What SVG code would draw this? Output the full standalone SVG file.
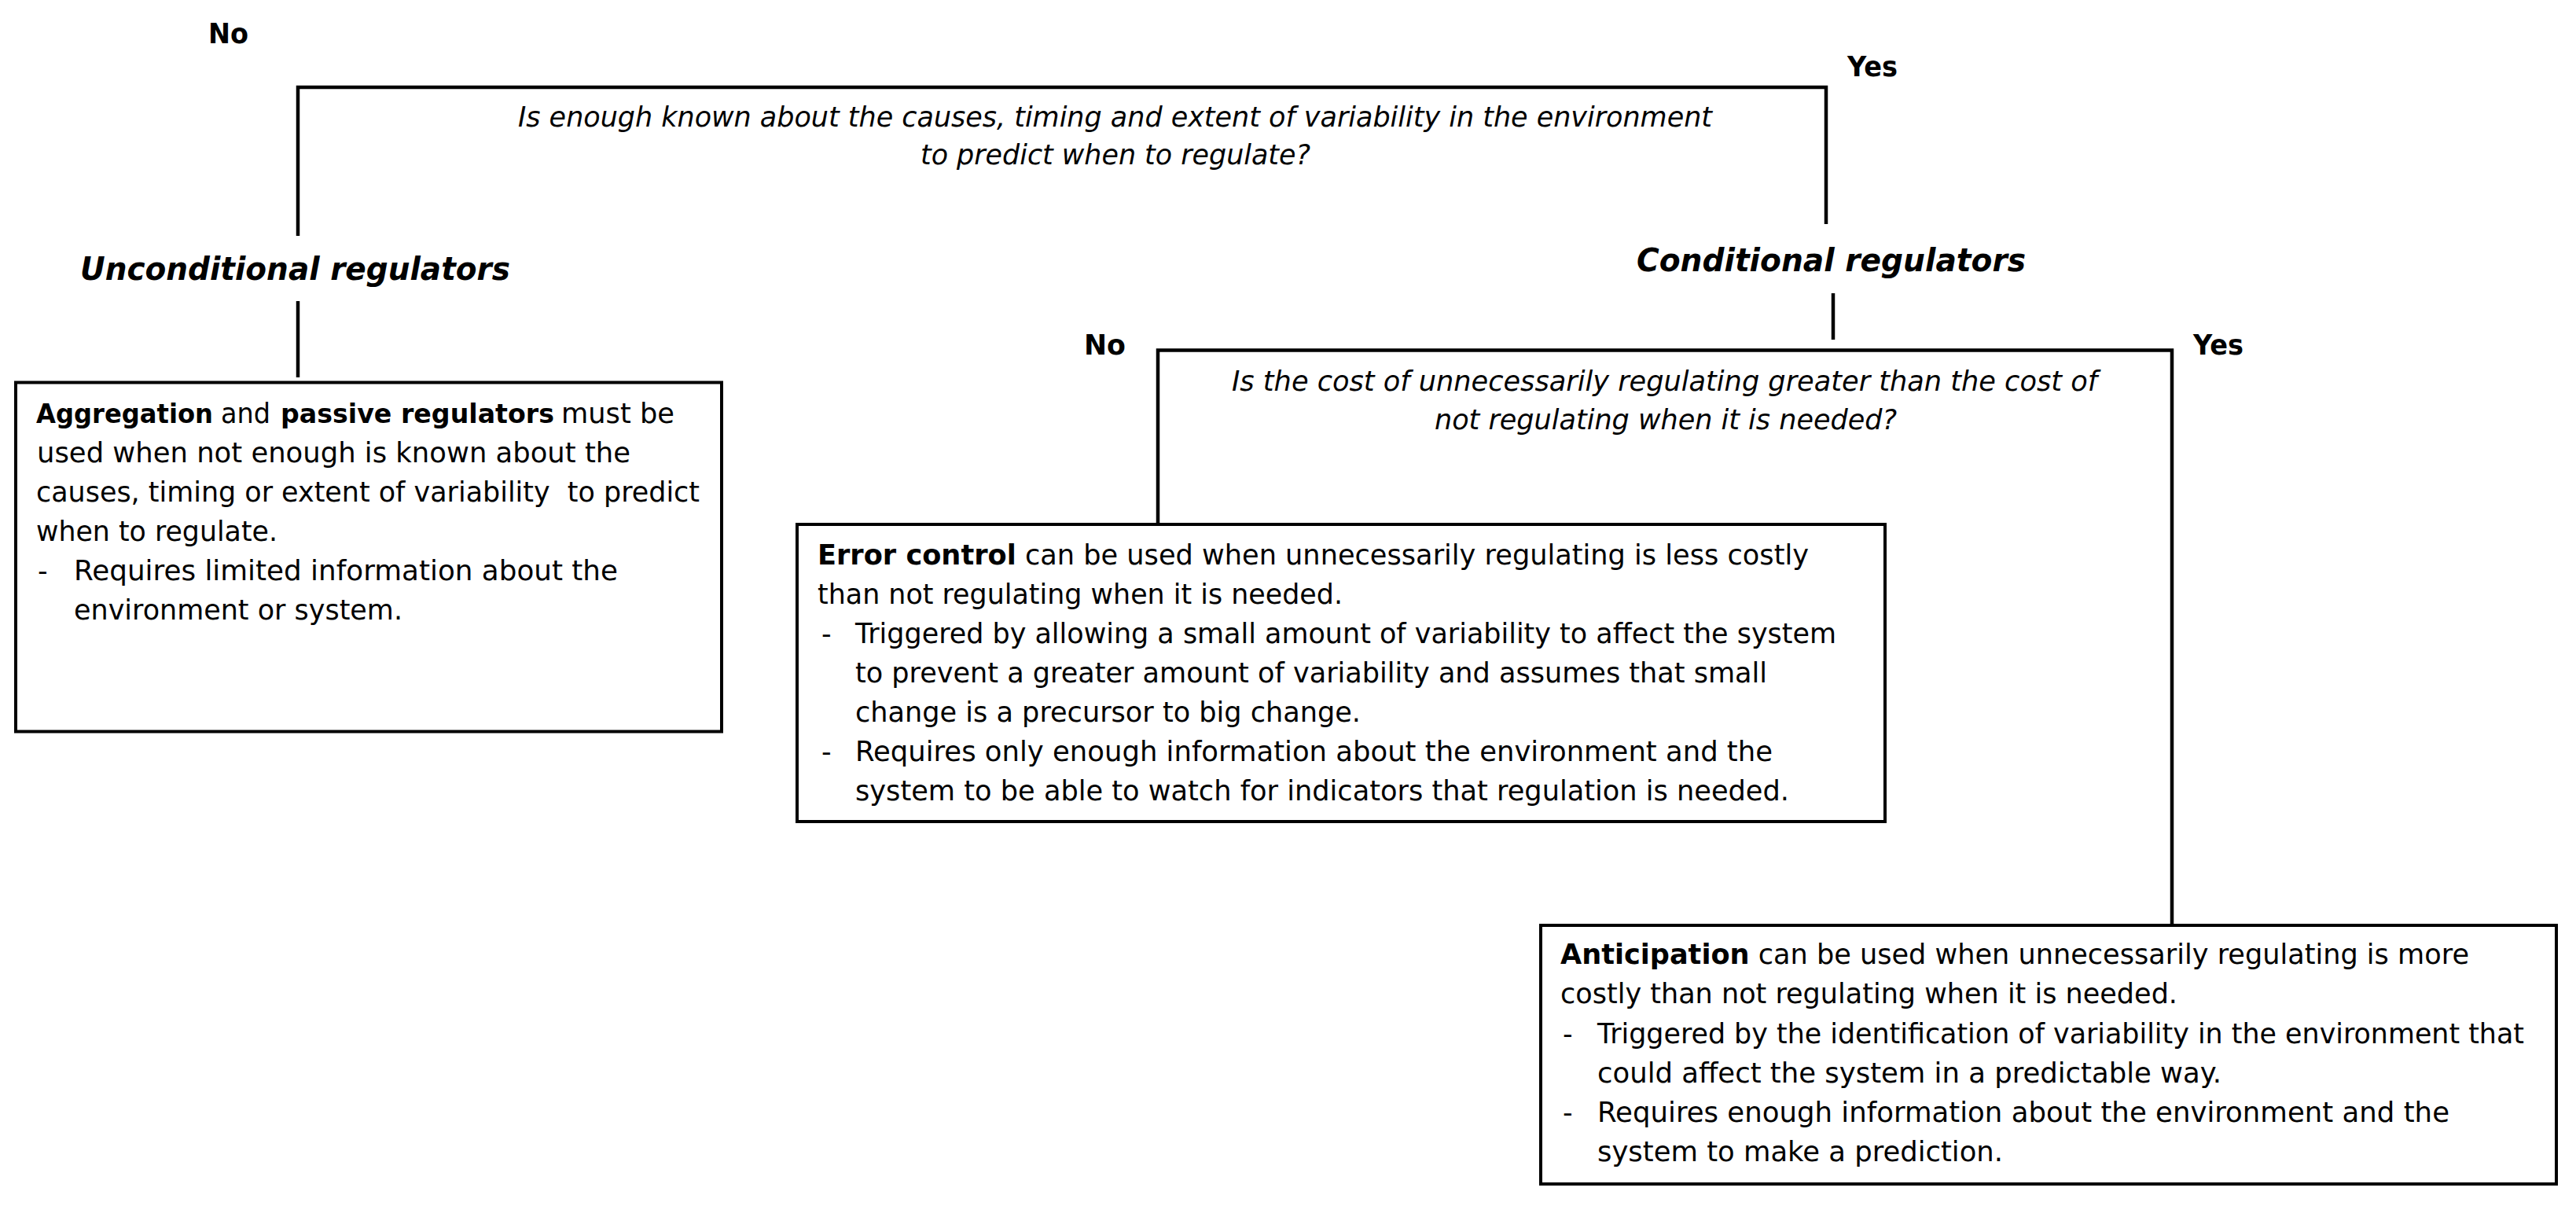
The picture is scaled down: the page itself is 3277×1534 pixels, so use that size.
<svg xmlns="http://www.w3.org/2000/svg" width="3277" height="1534" viewBox="0 0 3277 1534">
<style>
text{font-family:"DejaVu Sans","Liberation Sans",sans-serif;fill:#000}
.body{font-size:35px}
.b{font-weight:bold}
.b33{font-size:33px}
.q{font-size:35px;font-style:italic}
.lbl{font-size:35px;font-weight:bold}
.head{font-size:40px;font-weight:bold;font-style:italic}
.box{fill:#fff;stroke:#000;stroke-width:4}
.conn{fill:none;stroke:#000;stroke-width:4.5;stroke-linejoin:miter}
</style>
<rect width="3277" height="1534" fill="#fff"/>
<g id="connectors">
<path class="conn" d="M379,300 V111 H2323 V285"/>
<path class="conn" d="M379,383 V480"/>
<path class="conn" d="M2332,373 V432"/>
<path class="conn" d="M1473,667 V445.5 H2763 V1177"/>
</g>
<g id="q1">
<text class="q" x="659" y="161" textLength="1519" lengthAdjust="spacingAndGlyphs">Is enough known about the causes, timing and extent of variability in the environment</text>
<text class="q" x="1171" y="209" textLength="496" lengthAdjust="spacingAndGlyphs">to predict when to regulate?</text>
<text class="lbl" x="265" y="55" textLength="51" lengthAdjust="spacingAndGlyphs">No</text>
<text class="lbl" x="2350" y="97" textLength="64" lengthAdjust="spacingAndGlyphs">Yes</text>
</g>
<g id="unconditional">
<text class="head" x="102" y="356" textLength="547" lengthAdjust="spacingAndGlyphs">Unconditional regulators</text>
</g>
<g id="conditional">
<text class="head" x="2082" y="345" textLength="495" lengthAdjust="spacingAndGlyphs">Conditional regulators</text>
</g>
<g id="q2">
<text class="q" x="1567" y="497" textLength="1101" lengthAdjust="spacingAndGlyphs">Is the cost of unnecessarily regulating greater than the cost of</text>
<text class="q" x="1825" y="546" textLength="588" lengthAdjust="spacingAndGlyphs">not regulating when it is needed?</text>
<text class="lbl" x="1379" y="451" textLength="53" lengthAdjust="spacingAndGlyphs">No</text>
<text class="lbl" x="2790" y="451" textLength="64" lengthAdjust="spacingAndGlyphs">Yes</text>
</g>
<g id="box-aggregation">
<rect class="box" x="20" y="486.5" width="898" height="444"/>
<text class="body b b33" x="46" y="538" textLength="225" lengthAdjust="spacingAndGlyphs">Aggregation</text>
<text class="body" x="281" y="538" textLength="63" lengthAdjust="spacingAndGlyphs">and</text>
<text class="body b b33" x="357" y="538" textLength="348" lengthAdjust="spacingAndGlyphs">passive regulators</text>
<text class="body" x="714" y="538" textLength="144" lengthAdjust="spacingAndGlyphs">must be</text>
<text class="body" x="47" y="588" textLength="755" lengthAdjust="spacingAndGlyphs">used when not enough is known about the</text>
<text class="body" x="46" y="638" textLength="844" lengthAdjust="spacingAndGlyphs" xml:space="preserve">causes, timing or extent of variability  to predict</text>
<text class="body" x="46" y="688" textLength="307" lengthAdjust="spacingAndGlyphs">when to regulate.</text>
<text class="body" x="48" y="738">-</text>
<text class="body" x="94" y="738" textLength="692" lengthAdjust="spacingAndGlyphs">Requires limited information about the</text>
<text class="body" x="94" y="788" textLength="418" lengthAdjust="spacingAndGlyphs">environment or system.</text>
</g>
<g id="box-error-control">
<rect class="box" x="1014" y="667" width="1384" height="378"/>
<text class="body" x="1040" y="718" textLength="1261" lengthAdjust="spacingAndGlyphs"><tspan class="b">Error control</tspan> can be used when unnecessarily regulating is less costly</text>
<text class="body" x="1040" y="768" textLength="668" lengthAdjust="spacingAndGlyphs">than not regulating when it is needed.</text>
<text class="body" x="1045" y="818">-</text>
<text class="body" x="1088" y="818" textLength="1248" lengthAdjust="spacingAndGlyphs">Triggered by allowing a small amount of variability to affect the system</text>
<text class="body" x="1088" y="868" textLength="1160" lengthAdjust="spacingAndGlyphs">to prevent a greater amount of variability and assumes that small</text>
<text class="body" x="1088" y="918" textLength="643" lengthAdjust="spacingAndGlyphs">change is a precursor to big change.</text>
<text class="body" x="1045" y="968">-</text>
<text class="body" x="1088" y="968" textLength="1167" lengthAdjust="spacingAndGlyphs">Requires only enough information about the environment and the</text>
<text class="body" x="1088" y="1018" textLength="1188" lengthAdjust="spacingAndGlyphs">system to be able to watch for indicators that regulation is needed.</text>
</g>
<g id="box-anticipation">
<rect class="box" x="1960" y="1177" width="1292" height="329"/>
<text class="body" x="1985" y="1226" textLength="1156" lengthAdjust="spacingAndGlyphs"><tspan class="b">Anticipation</tspan> can be used when unnecessarily regulating is more</text>
<text class="body" x="1985" y="1276" textLength="785" lengthAdjust="spacingAndGlyphs">costly than not regulating when it is needed.</text>
<text class="body" x="1988" y="1327">-</text>
<text class="body" x="2032" y="1327" textLength="1179" lengthAdjust="spacingAndGlyphs">Triggered by the identification of variability in the environment that</text>
<text class="body" x="2032" y="1377" textLength="794" lengthAdjust="spacingAndGlyphs">could affect the system in a predictable way.</text>
<text class="body" x="1988" y="1427">-</text>
<text class="body" x="2032" y="1427" textLength="1084" lengthAdjust="spacingAndGlyphs">Requires enough information about the environment and the</text>
<text class="body" x="2032" y="1477" textLength="516" lengthAdjust="spacingAndGlyphs">system to make a prediction.</text>
</g>
</svg>
